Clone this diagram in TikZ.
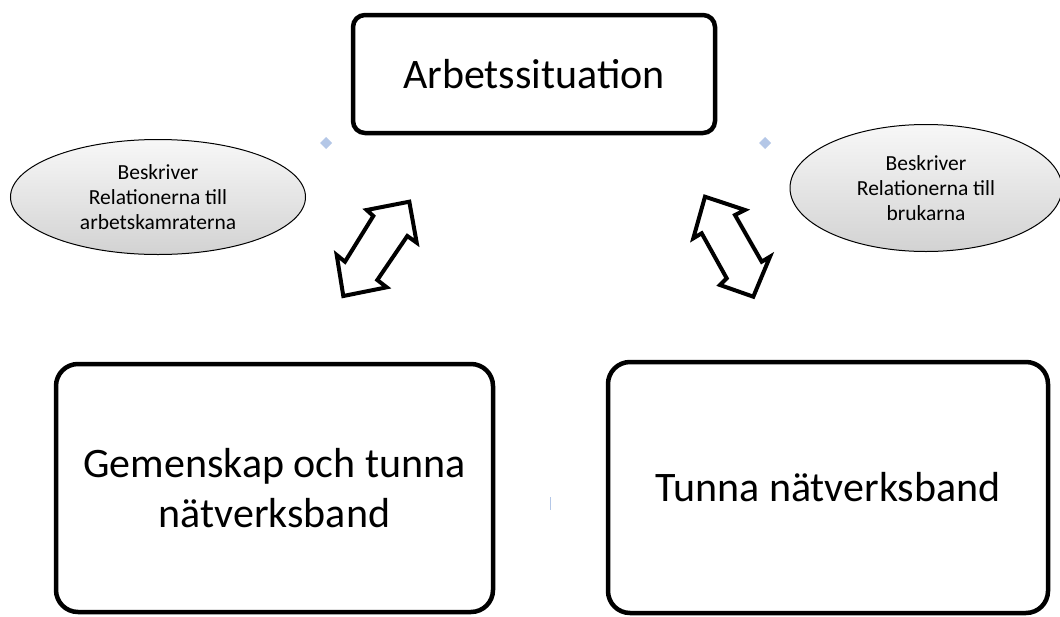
\documentclass[tikz,border=0pt]{standalone}
\usepackage{fontspec}
\setmainfont{Carlito}
\usetikzlibrary{shapes.geometric}
\definecolor{markblue}{RGB}{180,199,231}
\tikzset{
  mainbox/.style={draw=black, line width=4.5pt, rounded corners=#1, fill=white, align=center, inner sep=0pt, font=\fontsize{42}{50}\selectfont},
  oval/.style={ellipse, draw=black, line width=1pt, top color=gray!6, bottom color=gray!35, align=center, inner sep=0pt, font=\fontsize{21.5}{25}\selectfont},
  dblarrow/.style={draw=black, line width=4pt, line join=miter, fill=white},
  dotmark/.style={fill=markblue, draw=none}
}
\begin{document}
\begin{tikzpicture}[x=1pt,y=-1pt]
\useasboundingbox (0,0) rectangle (1060,616);
% boxes
\node[mainbox=12pt, minimum width=362pt, minimum height=118pt] (top) at (534,74) {Arbetssituation};
\node[mainbox=22pt, minimum width=437pt, minimum height=248pt] (left) at (274.5,488) {Gemenskap och tunna\\nätverksband};
\node[mainbox=22pt, minimum width=440pt, minimum height=251pt] (right) at (828,487.5) {Tunna nätverksband};
% ovals
\node[oval, minimum width=295pt, minimum height=115pt] (lo) at (158,197) {Beskriver\\Relationerna till\\arbetskamraterna};
\node[oval, minimum width=272pt, minimum height=127pt] (ro) at (926,188) {Beskriver\\Relationerna till\\brukarna};
% double arrows
\draw[dblarrow] (409.3,201.7) coordinate (la1) -- (416.7,242.7) -- (407.3,236) -- (377.3,280) -- (386.7,287.3)
  -- (343.3,296) coordinate (la2) -- (336.7,255) -- (345,261.7) -- (373.3,216) -- (366.7,210) -- cycle;
\draw[dblarrow] (705,196.7) coordinate (ra1) -- (745,210) -- (735,215) -- (761.7,261.7) -- (770,256.7)
  -- (753.3,296.7) coordinate (ra2) -- (720,285) -- (726.7,278.3) -- (701.7,233.3) -- (693.3,238.3) -- cycle;
% small marks
\fill[dotmark] (326,137) -- (332,143) -- (326,149) -- (320,143) -- cycle;
\fill[dotmark] (765,137) -- (771,143) -- (765,149) -- (759,143) -- cycle;
\fill[dotmark] (549.5,497) rectangle (551,510);
\end{tikzpicture}
\end{document}
